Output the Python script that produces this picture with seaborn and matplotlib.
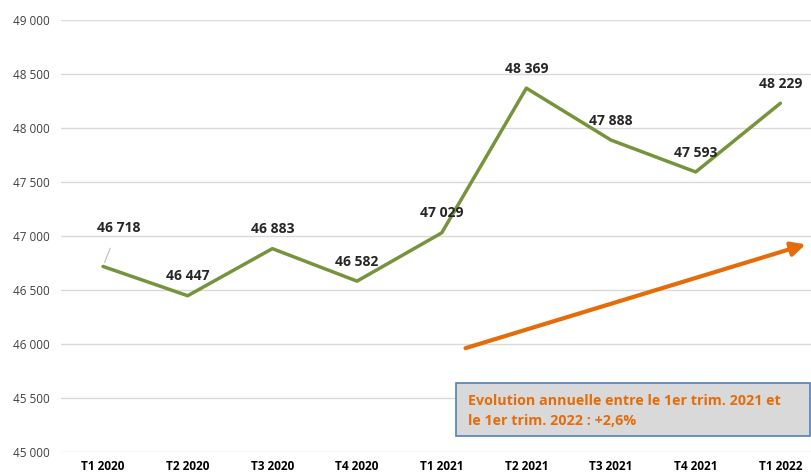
import matplotlib
matplotlib.use("Agg")
import matplotlib.pyplot as plt
import seaborn as sns
import pandas as pd
from matplotlib.ticker import FuncFormatter
from matplotlib.patches import Rectangle

quarters = ["T1 2020", "T2 2020", "T3 2020", "T4 2020", "T1 2021",
            "T2 2021", "T3 2021", "T4 2021", "T1 2022"]
values = [46718, 46447, 46883, 46582, 47029, 48369, 47888, 47593, 48229]
y_ticks = [45000, 45500, 46000, 46500, 47000, 47500, 48000, 48500, 49000]
note_text = "Evolution annuelle entre le 1er trim. 2021 et\nle 1er trim. 2022 : +2,6%"

sns.set_theme(style="white")
plt.rcParams["font.family"] = ["Open Sans", "DejaVu Sans"]

df = pd.DataFrame({"quarter": quarters, "value": values})

fig = plt.figure(figsize=(8.11, 4.76), dpi=100)
ax = fig.add_axes([60.7 / 811, 1 - 452 / 476, 762 / 811, 432 / 476])

sns.lineplot(data=df, x="quarter", y="value", ax=ax, color="#77933C",
             linewidth=2.5, sort=False)

ax.set_xlim(-0.5, len(quarters) - 0.5)
ax.set_ylim(45000, 49000)
ax.set_yticks(y_ticks)
ax.yaxis.set_major_formatter(FuncFormatter(lambda v, p: f"{int(v):,}".replace(",", " ")))
ax.grid(axis="y", color="#d9d9d9", linewidth=1)
ax.grid(axis="x", visible=False)
for s in ax.spines.values():
    s.set_visible(False)
ax.set_xlabel("")
ax.set_ylabel("")
ax.tick_params(axis="y", labelsize=8.5, colors="#404040", length=0, pad=8)
ax.tick_params(axis="x", labelsize=8.5, length=0, pad=6)
for t in ax.get_xticklabels():
    t.set_fontweight("bold")
    t.set_color("black")

for i, v in enumerate(values):
    lab = f"{v:,}".replace(",", " ")
    if i == 0:
        ax.annotate(lab, xy=(i, v), xytext=(i + 0.18, v + 360),
                    ha="center", va="center", fontsize=10, fontweight="bold",
                    arrowprops=dict(arrowstyle="-", color="#bfbfbf", lw=0.8,
                                    shrinkA=8, shrinkB=3))
    else:
        ax.annotate(lab, xy=(i, v), xytext=(0, 14), textcoords="offset points",
                    ha="center", va="center", fontsize=10, fontweight="bold")

ax.annotate("", xy=(8.33, 46930), xytext=(4.25, 45954),
            arrowprops=dict(arrowstyle="-|>,head_length=0.7,head_width=0.35",
                            color="#E46C0A", lw=3))

ax.add_patch(Rectangle((4.17, 45148), 4.18, 491, facecolor="#D9D9D9",
                       edgecolor="#4F81BD", linewidth=1.2, zorder=3,
                       clip_on=False))
ax.text(4.31, 45380, note_text, fontsize=10.3, fontweight="bold", color="#E46C0A",
        ha="left", va="center", linespacing=1.55, zorder=4)

fig.savefig("out.png", dpi=100)
